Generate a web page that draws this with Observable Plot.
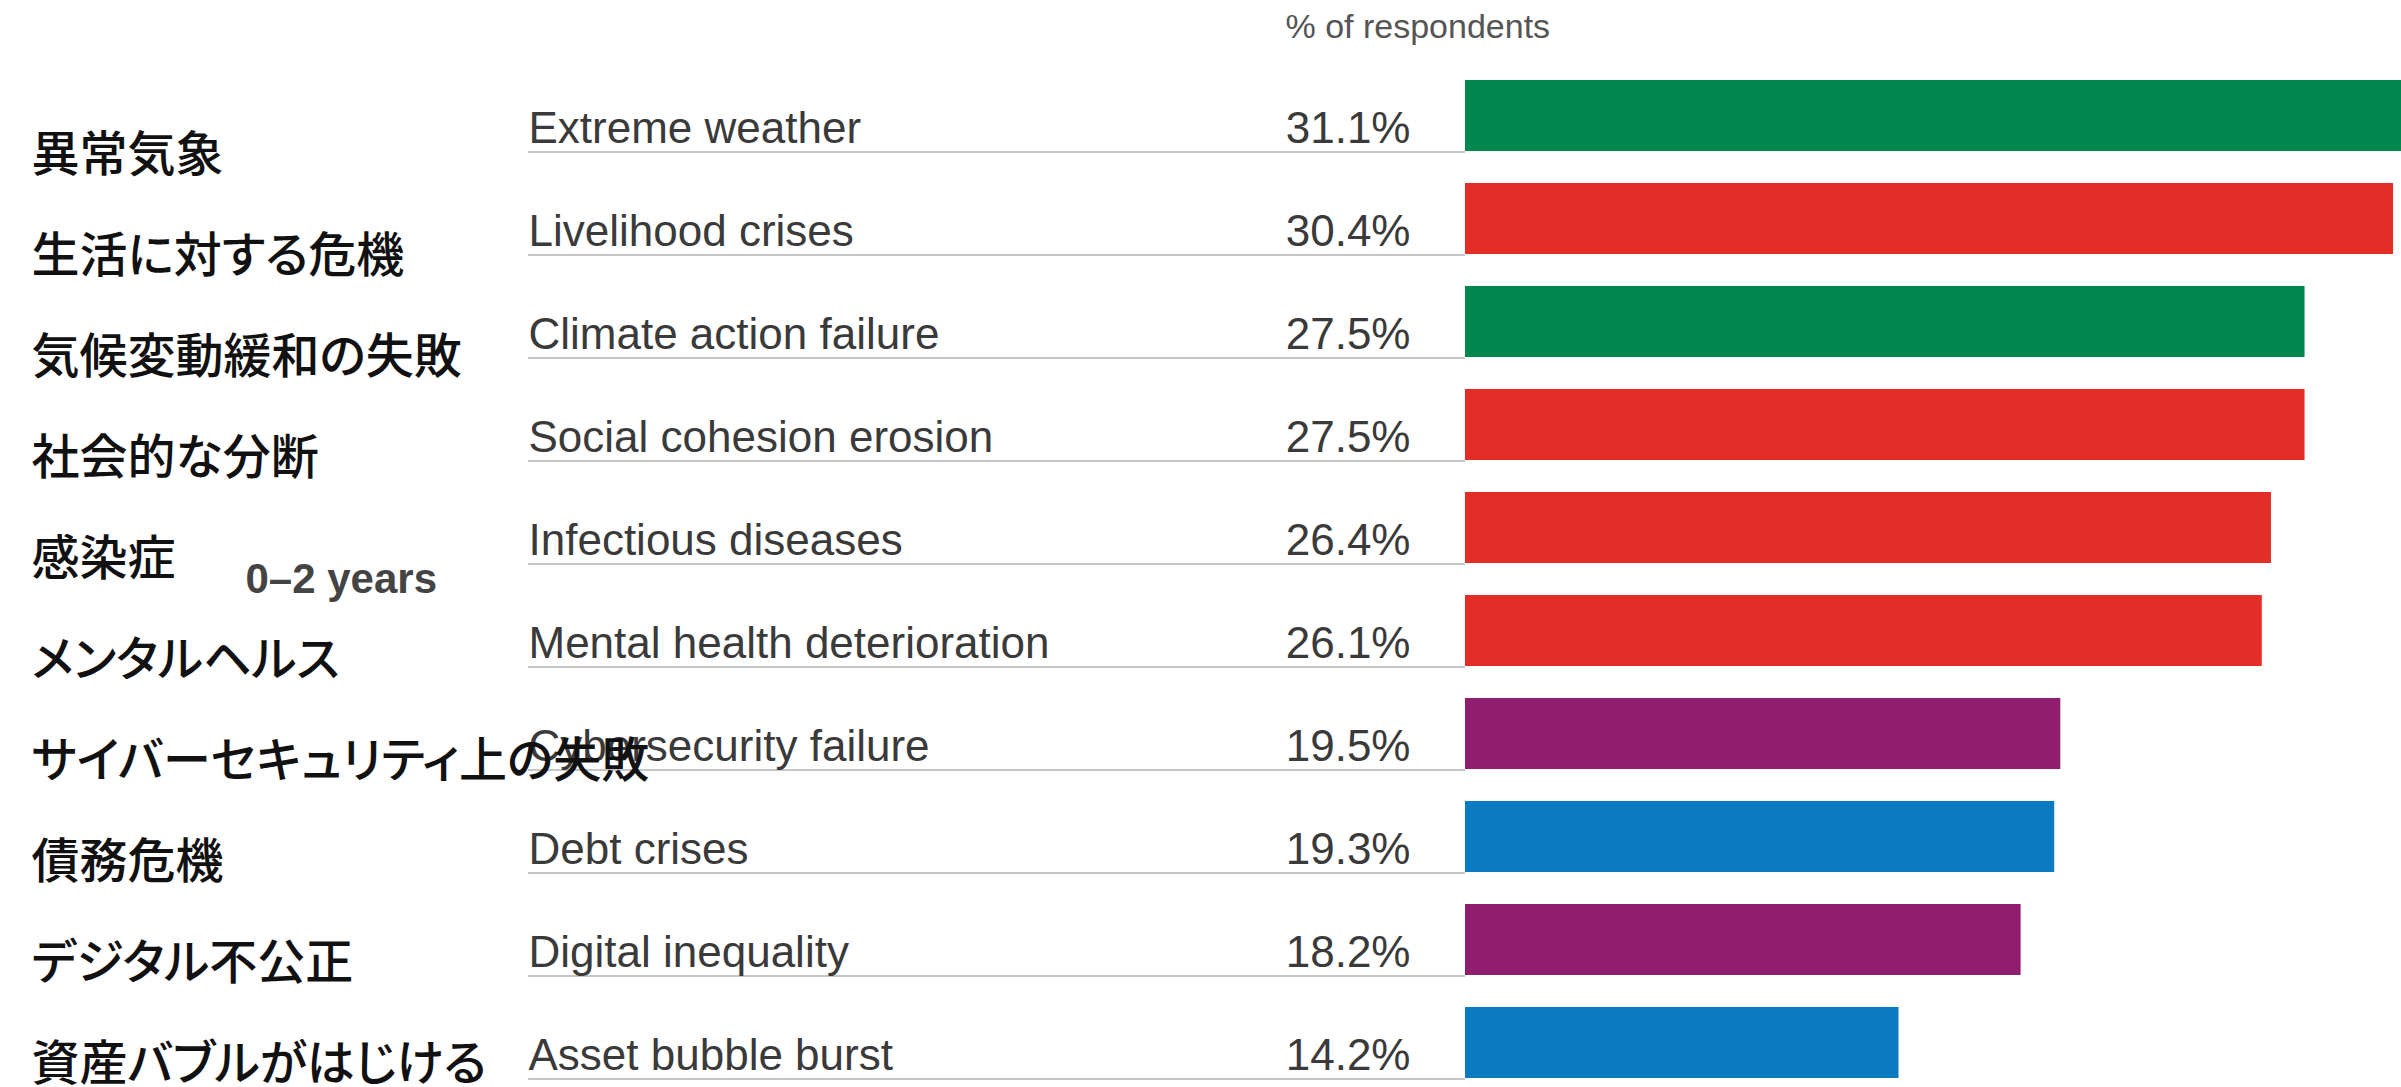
<!DOCTYPE html>
<html>
<head>
<meta charset="utf-8">
<script src="https://cdn.jsdelivr.net/npm/d3@7"></script>
<script src="https://cdn.jsdelivr.net/npm/@observablehq/plot@0.6"></script>
<style>
  html, body { margin: 0; padding: 0; background: #fff; overflow: hidden; }
  #wrap { position: relative; width: 2401px; height: 1087px; overflow: hidden; background: #fff; }
  #wrap svg { position: absolute; left: 0; top: 0; }
  .jp text { font-feature-settings: "palt"; }
</style>
</head>
<body>
<div id="wrap"></div>
<script>
// ---- data ----
const risks = [
  "Extreme weather",
  "Livelihood crises",
  "Climate action failure",
  "Social cohesion erosion",
  "Infectious diseases",
  "Mental health deterioration",
  "Cybersecurity failure",
  "Debt crises",
  "Digital inequality",
  "Asset bubble burst"
];
const values = [31.1, 30.4, 27.5, 27.5, 26.4, 26.1, 19.5, 19.3, 18.2, 14.2];
const categories = [
  "Environmental", "Societal", "Environmental", "Societal", "Societal",
  "Societal", "Technological", "Economic", "Technological", "Economic"
];
const categoryNames = ["Environmental", "Societal", "Technological", "Economic"];
const categoryColors = ["#00874F", "#E32E27", "#8F1F6E", "#0A7BC0"];
const jpLabels = [
  "異常気象",
  "生活に対する危機",
  "気候変動緩和の失敗",
  "社会的な分断",
  "感染症",
  "メンタルヘルス",
  "サイバーセキュリティ上の失敗",
  "債務危機",
  "デジタル不公正",
  "資産バブルがはじける"
];
const groupLabel = "0–2 years";
const headerLabel = "% of respondents";

const rows = risks.map((r, i) => ({
  risk: r,
  value: values[i],
  category: categories[i],
  label: values[i].toFixed(1) + "%"
}));

const latin = "'Liberation Sans', Arial, Helvetica, sans-serif";

const main = Plot.plot({
  width: 2401,
  height: 1087,
  marginLeft: 1465,
  marginRight: 0,
  marginTop: 80,
  marginBottom: 0,
  x: { domain: [0, 30.66], axis: null },
  y: { type: "band", domain: risks, paddingInner: 0.307, paddingOuter: 0, align: 0, axis: null },
  color: { domain: categoryNames, range: categoryColors },
  style: { fontFamily: latin, background: "transparent", overflow: "hidden" },
  marks: [
    Plot.ruleY(rows, { y: "risk", dy: 36, stroke: "#c6c6c6", strokeWidth: 2, insetLeft: -937, insetRight: 936 }),
    Plot.barX(rows, { x: "value", y: "risk", fill: "category", clip: true }),
    Plot.text(rows, {
      y: "risk", text: "risk", frameAnchor: "left", textAnchor: "start", lineAnchor: "bottom",
      dx: -937, dy: 27, fontSize: 44, fill: "#3a3a3a"
    }),
    Plot.text(rows, {
      y: "risk", text: "label", frameAnchor: "left", textAnchor: "end", lineAnchor: "bottom",
      dx: -55, dy: 27, fontSize: 44, fill: "#3a3a3a"
    }),
    Plot.text([headerLabel], {
      text: d => d, frameAnchor: "top-left", textAnchor: "start", lineAnchor: "bottom",
      dx: -180, dy: -43, fontSize: 34, fill: "#555"
    }),
    Plot.text([groupLabel], {
      text: d => d, frameAnchor: "left", textAnchor: "start", lineAnchor: "middle",
      dx: -1220, dy: -4, fontSize: 42, fontWeight: "bold", fill: "#444"
    })
  ]
});

const jp = Plot.plot({
  className: "jp",
  width: 2401,
  height: 1114,
  marginLeft: 31,
  marginRight: 0,
  marginTop: 100,
  marginBottom: 0,
  x: { axis: null },
  y: { type: "band", domain: jpLabels, paddingInner: 0, paddingOuter: 0, axis: null },
  style: { fontFamily: "'Noto Sans CJK JP', sans-serif", background: "transparent", overflow: "visible" },
  marks: [
    Plot.text(jpLabels, {
      y: d => d, text: d => d, frameAnchor: "left", textAnchor: "start", lineAnchor: "middle",
      dy: 3, fontSize: 48, fontWeight: 500, fill: "#111"
    })
  ]
});

const wrap = document.getElementById("wrap");
wrap.appendChild(main);
wrap.appendChild(jp);
</script>
</body>
</html>
